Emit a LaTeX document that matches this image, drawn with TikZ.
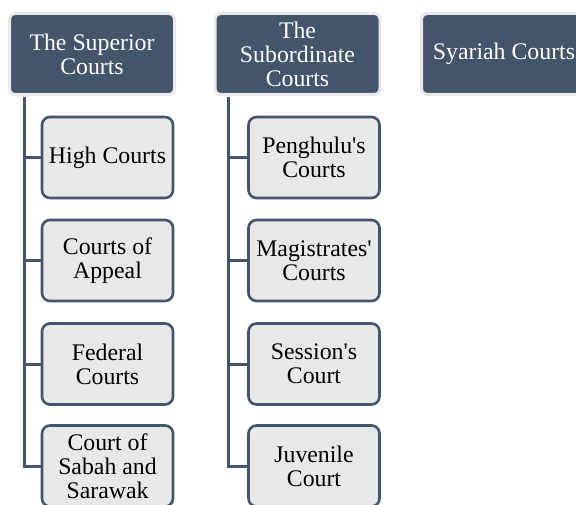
\documentclass[tikz,border=0pt]{standalone}
\usepackage{fontspec}
\setmainfont{Liberation Serif}[Ligatures=TeXOff]
\definecolor{slate}{HTML}{44546A}
\definecolor{paleGray}{HTML}{E8E8E8}

\begin{document}
\begin{tikzpicture}[x=1pt, y=-1pt,
    headbox/.style={draw=paleGray, line width=3pt, fill=slate, rounded corners=6pt, minimum width=165pt, minimum height=81pt, inner sep=0pt, align=center, text=white, font=\fontsize{23.8pt}{24pt}\selectfont},
    courtbox/.style={draw=slate, line width=2.6pt, fill=paleGray, rounded corners=8pt, minimum width=131pt, minimum height=81pt, inner sep=0pt, align=center, font=\fontsize{23.8pt}{24pt}\selectfont},
    branch/.style={draw=slate, line width=3pt}]
    \clip (0,0) rectangle (576,505);

    % Top categories
    \node[headbox] (superior) at (92,54) {The Superior\\Courts};
    \node[headbox] (subordinate) at (297.5,54) {The\\Subordinate\\Courts};
    \node[headbox] (syariah) at (504,54) {Syariah Courts};

    % Superior courts
    \node[courtbox] (high) at (107.5,157.5) {High Courts};
    \node[courtbox] (appeal) at (107.5,260.5) {Courts of\\Appeal};
    \node[courtbox] (federal) at (107.5,364) {Federal\\Courts};
    \node[courtbox] (sabah) at (107.5,466) {Court of\\Sabah and\\Sarawak};

    % Subordinate courts
    \node[courtbox] (penghulu) at (314,157.5) {Penghulu's\\Courts};
    \node[courtbox] (magistrate) at (314,260.5) {Magistrates'\\Courts};
    \node[courtbox] (session) at (314,364) {Session's\\Court};
    \node[courtbox] (juvenile) at (314,466) {Juvenile\\Court};

    % Branch lines
    \coordinate (supTrunk) at ([xshift=16pt, yshift=-1.5pt]superior.south west);
    \coordinate (subTrunk) at ([xshift=15pt, yshift=-1.5pt]subordinate.south west);
    \draw[branch] (supTrunk) |- (high.west);
    \draw[branch] (supTrunk) |- (appeal.west);
    \draw[branch] (supTrunk) |- (federal.west);
    \draw[branch] (supTrunk) |- (sabah.west);
    \draw[branch] (subTrunk) |- (penghulu.west);
    \draw[branch] (subTrunk) |- (magistrate.west);
    \draw[branch] (subTrunk) |- (session.west);
    \draw[branch] (subTrunk) |- (juvenile.west);
\end{tikzpicture}
\end{document}
